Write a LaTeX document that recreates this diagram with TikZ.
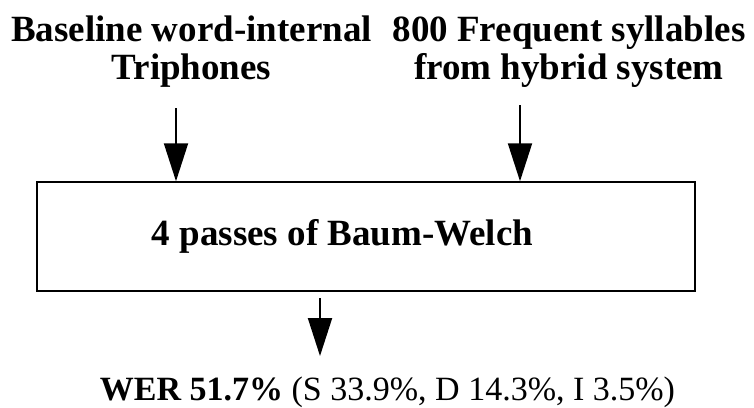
\documentclass[tikz,border=0pt]{standalone}
\usepackage{fontspec}
\setmainfont{Liberation Serif}
\usetikzlibrary{arrows.meta}
\begin{document}
\begin{tikzpicture}[x=1pt,y=-1pt,
  lbl/.style={font=\fontsize{37}{38}\selectfont\bfseries, align=center, inner sep=0pt},
  flow/.style={line width=2pt, -{Triangle[length=38pt,width=24pt]}},
  stage/.style={draw, line width=1.5pt, minimum width=658pt, minimum height=109pt, inner sep=0pt}]
  \useasboundingbox (0,0) rectangle (754,407);
  \node[lbl] (tri) at (191.5,51.5) {Baseline word-internal\\Triphones};
  \node[lbl] (syl) at (569,51.5) {800 Frequent syllables\\from hybrid system};
  \node[stage] (bw) at (366,236.5) {};
  \node[font=\fontsize{37}{38}\selectfont\bfseries, inner sep=0pt, anchor=base] (bwt) at (342.5,245) {4 passes of Baum-Welch};
  \coordinate (triA) at (176,108);
  \coordinate (sylA) at (520,105);
  \coordinate (outA) at (320,298);
  \coordinate (outB) at (320,356);
  \draw[flow] (triA) -- (triA |- bw.north);
  \draw[flow] (sylA) -- (sylA |- bw.north);
  \node[inner sep=0pt, anchor=base, font=\fontsize{34}{36}\selectfont] (wer) at (387.5,400) {\textbf{WER 51.7\%} (S 33.9\%, D 14.3\%, I 3.5\%)};
  \draw[flow] (outA) -- (outB);
\end{tikzpicture}
\end{document}
